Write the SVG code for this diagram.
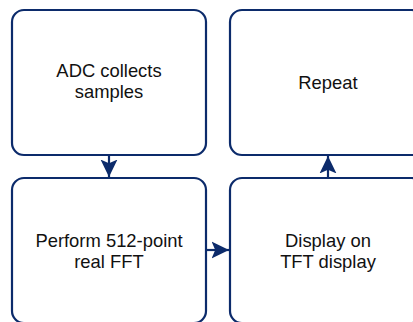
<svg xmlns="http://www.w3.org/2000/svg" width="413" height="322" viewBox="0 0 413 322">
  <style>
    .box { fill: #ffffff; stroke: #0c2b6b; stroke-width: 2.2; }
    .lbl { font-family: "Liberation Sans", Arial, sans-serif; font-size: 18.4px; fill: #111111; text-anchor: middle; }
    .edge { fill: none; stroke: #0c2b6b; stroke-width: 2.2; }
  </style>
  <defs>
    <marker id="arr" markerUnits="userSpaceOnUse" markerWidth="18" markerHeight="18" viewBox="0 0 17 17" refX="16.5" refY="8.5" orient="auto">
      <path d="M0,0.5 L16.5,8.5 L0,16.5 L3.5,8.5 Z" fill="#0c2b6b"/>
    </marker>
  </defs>
  <rect width="413" height="322" fill="#ffffff"/>
  <g id="n1">
    <rect class="box" x="12" y="10" width="194" height="145" rx="12"/>
    <text class="lbl" x="109" y="77">ADC collects</text>
    <text class="lbl" x="109" y="98">samples</text>
  </g>
  <g id="n2">
    <rect class="box" x="230" y="10" width="194" height="145" rx="12"/>
    <text class="lbl" x="328" y="89">Repeat</text>
  </g>
  <g id="n3">
    <rect class="box" x="12" y="178" width="194" height="145" rx="12"/>
    <text class="lbl" x="109" y="247">Perform 512-point</text>
    <text class="lbl" x="109" y="268">real FFT</text>
  </g>
  <g id="n4">
    <rect class="box" x="230" y="178" width="194" height="145" rx="12"/>
    <text class="lbl" x="328" y="247">Display on</text>
    <text class="lbl" x="328" y="268">TFT display</text>
  </g>
  <g id="edges">
    <path class="edge" d="M109,155 L109,177" marker-end="url(#arr)"/>
    <path class="edge" d="M206,250 L229,250" marker-end="url(#arr)"/>
    <path class="edge" d="M328,178 L328,156" marker-end="url(#arr)"/>
  </g>
</svg>
